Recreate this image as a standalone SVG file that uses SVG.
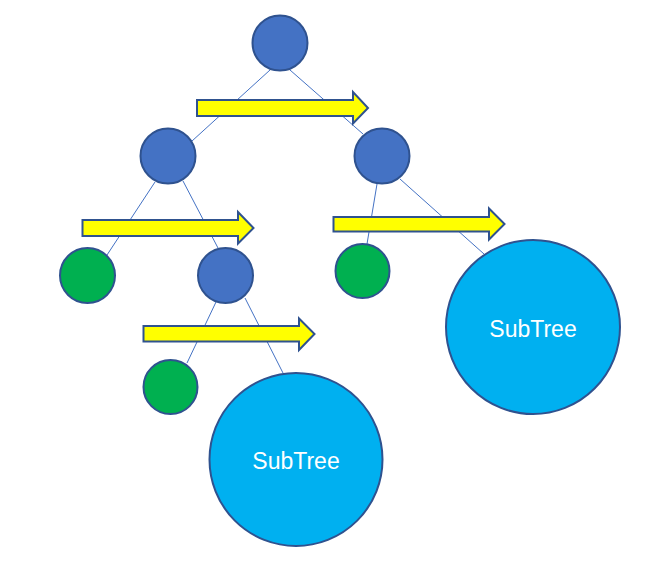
<svg xmlns="http://www.w3.org/2000/svg" width="659" height="565" viewBox="0 0 659 565">
<style>
.edge{stroke:#4472C4;stroke-width:1;fill:none}
.inner{fill:#4472C4;stroke:#2F528F;stroke-width:2}
.leaf{fill:#00B050;stroke:#2F528F;stroke-width:2}
.sub{fill:#00B0F0;stroke:#2F528F;stroke-width:2}
.arrow{fill:#FFFF00;stroke:#2F528F;stroke-width:2;stroke-linejoin:miter}
.lbl{font-family:"Liberation Sans",Arial,sans-serif;font-size:23px;fill:#FFFFFF;text-anchor:middle}
</style>
<rect width="659" height="565" fill="#FFFFFF"/>
<g id="connectors">
<line class="edge" x1="270" y1="70" x2="192" y2="141"/>
<line class="edge" x1="290" y1="70" x2="363" y2="134"/>
<line class="edge" x1="155" y1="182" x2="107" y2="255"/>
<line class="edge" x1="183" y1="181" x2="218" y2="248"/>
<line class="edge" x1="216" y1="302" x2="187" y2="363"/>
<line class="edge" x1="245" y1="298" x2="283" y2="373"/>
<line class="edge" x1="377" y1="184" x2="367" y2="244"/>
<line class="edge" x1="400" y1="179" x2="484" y2="254"/>
</g>
<g id="root"><circle class="inner" cx="280" cy="43" r="27.5"/></g>
<g id="left1"><circle class="inner" cx="168" cy="156" r="27.5"/></g>
<g id="right1"><circle class="inner" cx="382" cy="156" r="27.5"/></g>
<g id="leaf-left"><circle class="leaf" cx="87.5" cy="275.5" r="27.5"/></g>
<g id="mid2"><circle class="inner" cx="225.5" cy="275.5" r="27.5"/></g>
<g id="leaf-right"><circle class="leaf" cx="362.5" cy="271" r="27"/></g>
<g id="leaf-bottom"><circle class="leaf" cx="170.5" cy="387" r="27"/></g>
<g id="subtree-right"><circle class="sub" cx="533" cy="327" r="87"/><text class="lbl" x="533" y="337">SubTree</text></g>
<g id="subtree-bottom"><circle class="sub" cx="296" cy="459.5" r="86.5"/><text class="lbl" x="296" y="469">SubTree</text></g>
<g id="arrows">
<polygon class="arrow" points="197,100 353,100 353,92 368,108 353,123.5 353,116 197,116"/>
<polygon class="arrow" points="82.5,220 238,220 238,212 253.5,228 238,243.5 238,236 82.5,236"/>
<polygon class="arrow" points="333.5,217 489,217 489,208.5 504.5,224 489,239.5 489,231.5 333.5,231.5"/>
<polygon class="arrow" points="143.5,326 299,326 299,318.5 314.5,334 299,350 299,341.5 143.5,341.5"/>
</g>
</svg>
